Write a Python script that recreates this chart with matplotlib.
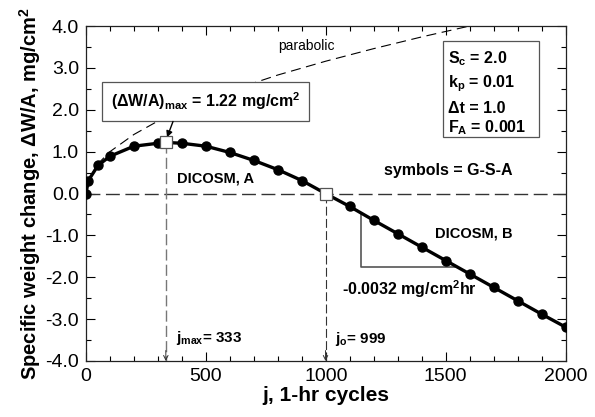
import numpy as np
import matplotlib
matplotlib.use("Agg")
import matplotlib.pyplot as plt

plt.rcParams["font.family"] = ["Liberation Sans", "DejaVu Sans"]
plt.rcParams["mathtext.fontset"] = "custom"
plt.rcParams["mathtext.rm"] = "Liberation Sans:bold"
plt.rcParams["mathtext.it"] = "Liberation Sans:bold"
plt.rcParams["mathtext.bf"] = "Liberation Sans:bold"
plt.rcParams["mathtext.default"] = "regular"

# DICOSM curve (line)
j_curve = [0, 10, 50, 100, 200, 300, 333, 400, 500, 600, 700, 800, 900, 999,
           1100, 1200, 1300, 1400, 1500, 1600, 1700, 1800, 1900, 2000]
w_curve = [0.0, 0.31, 0.67, 0.89, 1.13, 1.20, 1.22, 1.20, 1.13, 0.98, 0.79, 0.57, 0.31, 0.0,
           -0.31, -0.64, -0.96, -1.28, -1.60, -1.92, -2.24, -2.56, -2.88, -3.19]

# G-S-A symbols (filled circles)
j_gsa = [0, 10, 50, 100, 200, 300, 400, 500, 600, 700, 800, 900,
         1100, 1200, 1300, 1400, 1500, 1600, 1700, 1800, 1900, 2000]
w_gsa = [0.0, 0.31, 0.67, 0.89, 1.13, 1.20, 1.20, 1.13, 0.98, 0.79, 0.57, 0.31,
         -0.31, -0.64, -0.96, -1.28, -1.60, -1.92, -2.24, -2.56, -2.88, -3.19]

# special points (open squares): max and zero crossing
j_special = [333, 999]
w_special = [1.22, 0.0]

# parabolic reference
j_para = [0, 10, 50, 100, 200, 300, 400, 600, 800, 1000, 1200, 1400, 1600]
w_para = [0.0, 0.32, 0.71, 1.0, 1.41, 1.73, 2.0, 2.45, 2.83, 3.16, 3.46, 3.74, 4.0]

fig = plt.figure(figsize=(5.95, 4.17), dpi=100)
ax = fig.add_axes([0.1445, 0.1343, 0.806, 0.8033])

ax.plot(j_para, w_para, color="black", lw=0.8, dashes=(9, 5))
ax.plot([0, 2000], [0, 0], color="#333333", lw=1.0, dashes=(10, 4))
ax.plot([333, 333], [1.22, -4.0], color="#777777", lw=1.0, dashes=(8, 3))
ax.plot([999, 999], [0, -4.0], color="#333333", lw=0.8, dashes=(8, 3))
for jj in j_special:
    ax.annotate("", xy=(jj, -4.0), xytext=(jj, -3.75),
                arrowprops=dict(arrowstyle="->", lw=0.7, color="#333333",
                                shrinkA=0, shrinkB=0, mutation_scale=8))

ax.plot(j_curve, w_curve, color="black", lw=2.4, zorder=3)
ax.plot(j_gsa, w_gsa, "o", color="black", ms=6.5, zorder=4)
ax.plot(j_special, w_special, "s", mfc="white", mec="#555555", mew=0.9, ms=8, zorder=5)

# slope triangle
ax.plot([1145, 1145, 1540], [-0.50, -1.765, -1.765], color="#555555", lw=1.2, zorder=2)

ax.set_xlim(0, 2000)
ax.set_ylim(-4.0, 4.0)
ax.set_xticks(np.arange(0, 2001, 500))
ax.set_xticks(np.arange(0, 2001, 100), minor=True)
ax.set_yticks(np.arange(-4.0, 4.01, 1.0))
ax.set_yticks(np.arange(-4.0, 4.01, 0.5), minor=True)
ax.set_yticklabels(["%.1f" % v for v in np.arange(-4.0, 4.01, 1.0)])
ax.tick_params(which="both", direction="in", top=True, right=True, labelsize=14, width=0.8)
ax.tick_params(which="major", length=6.5, pad=5)
ax.tick_params(which="minor", length=3.5)
for s in ax.spines.values():
    s.set_linewidth(0.9)
    s.set_color("#222222")

ax.set_xlabel("j, 1-hr cycles", fontsize=15, fontweight="bold", labelpad=1)
ax.set_ylabel("Specific weight change, \u0394W/A, mg/cm$^2$", fontsize=14.5,
              fontweight="bold", labelpad=2)

ax.text(801, 3.52, "parabolic", fontsize=10, va="center", ha="left")
ax.text(500, 2.2, "(\u0394W/A)$_{max}$ = 1.22 mg/cm$^2$", fontsize=11.5, fontweight="bold",
        ha="center", va="center",
        bbox=dict(boxstyle="square,pad=0.55", fc="white", ec="#555555", lw=0.9))
ax.annotate("", xy=(338, 1.34), xytext=(363, 1.72),
            arrowprops=dict(arrowstyle="-|>", color="black", lw=1.0,
                            mutation_scale=9, shrinkA=0, shrinkB=0))

ax.add_patch(plt.Rectangle((1489, 1.34), 400, 2.30, fill=False, ec="#555555", lw=0.9))
params = ["S$_c$ = 2.0", "k$_p$ = 0.01", "\u0394t = 1.0", "F$_A$ = 0.001"]
ys = [3.21, 2.63, 2.04, 1.58]
for t, y in zip(params, ys):
    ax.text(1510, y, t, fontsize=11.5, fontweight="bold", ha="left", va="center")

ax.text(1510, 0.55, "symbols = G-S-A", fontsize=11.5, fontweight="bold", ha="center", va="center")
ax.text(380, 0.36, "DICOSM, A", fontsize=10.5, fontweight="bold", ha="left", va="center")
ax.text(1456, -0.96, "DICOSM, B", fontsize=10.5, fontweight="bold", ha="left", va="center")
ax.text(1068, -2.28, "-0.0032 mg/cm$^2$hr", fontsize=11.5, fontweight="bold", ha="left", va="center")
ax.text(375, -3.45, "j$_{max}$= 333", fontsize=11, fontweight="bold", ha="left", va="center")
ax.text(1039, -3.47, "j$_o$= 999", fontsize=11, fontweight="bold", ha="left", va="center")

fig.savefig("out.png", dpi=100)
